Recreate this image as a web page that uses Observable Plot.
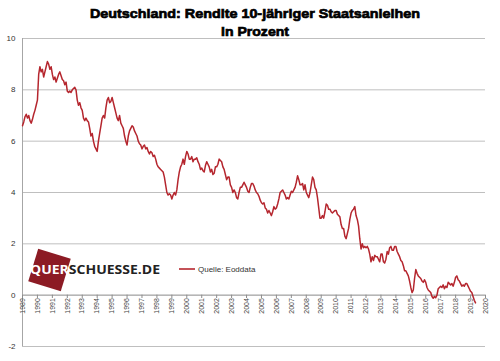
<!DOCTYPE html>
<html>
<head>
<meta charset="utf-8">
<script src="https://cdn.jsdelivr.net/npm/d3@7"></script>
<script src="https://cdn.jsdelivr.net/npm/@observablehq/plot@0.6"></script>
<style>
  html, body { margin: 0; padding: 0; background: #fff; }
  #chart { width: 500px; height: 361px; }
</style>
</head>
<body>
<div id="chart"></div>
<script>
// Chart texts
const titleLine1 = "Deutschland: Rendite 10-jähriger Staatsanleihen";
const titleLine2 = "in Prozent";
const legendLabel = "Quelle: Eoddata";
const logoText1 = "QUER";
const logoText2 = "SCHUESSE.DE";

// Axis ticks
const yTicks = [-2, 0, 2, 4, 6, 8, 10];
const yearTicks = [1989,1990,1991,1992,1993,1994,1995,1996,1997,1998,1999,2000,2001,2002,2003,2004,
  2005,2006,2007,2008,2009,2010,2011,2012,2013,2014,2015,2016,2017,2018,2019,2020];

// Monthly yield readings (%), starting January 1989
const startYear = 1989;
const yields = [
  // 1989
  6.6, 6.75, 6.95, 7.05, 6.9, 7.0, 6.8, 6.7, 6.85, 7.05, 7.2, 7.4,
  // 1990
  7.6, 8.6, 8.9, 8.7, 8.8, 8.5, 8.7, 8.9, 9.1, 9.0, 8.8, 8.9,
  // 1991
  8.6, 8.4, 8.5, 8.3, 8.45, 8.6, 8.7, 8.55, 8.4, 8.35, 8.2, 8.3,
  // 1992
  7.95, 7.9, 7.95, 7.9, 8.0, 8.05, 8.1, 8.0, 7.6, 7.4, 7.5, 7.3,
  // 1993
  7.2, 6.9, 6.8, 6.9, 6.8, 6.75, 6.5, 6.2, 6.3, 6.0, 5.8, 5.7,
  // 1994
  5.6, 6.0, 6.3, 6.6, 6.9, 7.0, 6.9, 7.3, 7.6, 7.7, 7.5, 7.55,
  // 1995
  7.7, 7.5, 7.3, 7.1, 6.9, 6.8, 7.0, 6.7, 6.6, 6.5, 6.2, 6.0,
  // 1996
  5.85, 6.2, 6.4, 6.5, 6.6, 6.55, 6.4, 6.3, 6.2, 6.0, 5.9, 5.85,
  // 1997
  5.7, 5.8, 5.85, 5.7, 5.75, 5.6, 5.5, 5.6, 5.55, 5.4, 5.45, 5.3,
  // 1998
  5.1, 5.0, 4.95, 4.9, 4.85, 4.8, 4.6, 4.3, 4.0, 3.9, 3.95, 3.9,
  // 1999
  3.75, 3.9, 4.0, 3.9, 4.1, 4.5, 4.8, 5.0, 5.1, 5.3, 5.1, 5.4,
  // 2000
  5.6, 5.5, 5.3, 5.3, 5.4, 5.2, 5.3, 5.3, 5.35, 5.2, 5.1, 4.9,
  // 2001
  4.95, 4.85, 4.8, 5.05, 5.2, 5.1, 5.0, 4.8, 4.9, 4.7, 4.75, 5.0,
  // 2002
  5.0, 5.1, 5.3, 5.25, 5.2, 5.0, 4.9, 4.7, 4.5, 4.6, 4.6, 4.3,
  // 2003
  4.2, 4.0, 4.1, 4.0, 3.8, 3.75, 4.0, 4.2, 4.2, 4.3, 4.4, 4.3,
  // 2004
  4.2, 4.05, 4.0, 4.2, 4.35, 4.35, 4.25, 4.1, 4.0, 3.95, 3.85, 3.7,
  // 2005
  3.6, 3.55, 3.6, 3.4, 3.35, 3.2, 3.3, 3.2, 3.1, 3.25, 3.45, 3.35,
  // 2006
  3.4, 3.55, 3.75, 4.0, 4.05, 4.1, 4.0, 3.9, 3.75, 3.8, 3.75, 3.9,
  // 2007
  4.05, 4.0, 4.1, 4.2, 4.4, 4.65, 4.5, 4.3, 4.3, 4.35, 4.1, 4.3,
  // 2008
  4.0, 3.9, 3.8, 4.0, 4.3, 4.6, 4.5, 4.2, 4.1, 3.8, 3.4, 3.0,
  // 2009
  3.0, 3.1, 3.0, 3.25, 3.55, 3.5, 3.35, 3.35, 3.25, 3.2, 3.25, 3.3,
  // 2010
  3.3, 3.15, 3.1, 3.05, 2.75, 2.6, 2.6, 2.3, 2.2, 2.4, 2.6, 2.95,
  // 2011
  3.2, 3.3, 3.35, 3.45, 3.1, 2.95, 2.7, 2.2, 1.8, 2.0, 1.85, 1.9,
  // 2012
  1.85, 1.9, 1.8, 1.6, 1.3, 1.5, 1.35, 1.55, 1.5, 1.5, 1.4, 1.3,
  // 2013
  1.6, 1.6, 1.3, 1.25, 1.4, 1.7, 1.6, 1.85, 1.9, 1.75, 1.75, 1.9,
  // 2014
  1.9, 1.7, 1.6, 1.5, 1.35, 1.3, 1.15, 0.95, 0.95, 0.85, 0.75, 0.55,
  // 2015
  0.3, 0.1, 0.2, 0.65, 1.0, 0.85, 0.75, 0.7, 0.65, 0.55, 0.5, 0.6,
  // 2016
  0.5, 0.3, 0.2, 0.15, 0.1, -0.05, -0.12, -0.05, -0.1, 0.0, 0.25, 0.3,
  // 2017
  0.35, 0.3, 0.4, 0.25, 0.35, 0.3, 0.5, 0.45, 0.4, 0.45, 0.35, 0.5,
  // 2018
  0.7, 0.75, 0.6, 0.55, 0.45, 0.35, 0.4, 0.35, 0.45, 0.45, 0.35, 0.25,
  // 2019
  0.15, 0.1, -0.05, -0.2, -0.3
];

const series = yields.map((v, i) => ({t: startYear + i / 12, v}));

const lineColor = "#b5262e";
const gridColor = "#bfbfbf";

const chart = Plot.plot({
  width: 500,
  height: 361,
  marginLeft: 22,
  marginRight: 15,
  marginTop: 38,
  marginBottom: 15,
  x: {domain: [1989, 2020], axis: null},
  y: {domain: [-2, 10], axis: null},
  style: {background: "#fff", fontFamily: "Liberation Sans, Arial, sans-serif"},
  marks: [
    Plot.ruleY(yTicks, {y: d => d, stroke: gridColor, strokeWidth: 1}),
    Plot.ruleX([1989], {stroke: "#a6a6a6", strokeWidth: 1}),
    Plot.ruleY([0], {stroke: "#a6a6a6", strokeWidth: 1}),
    Plot.ruleX(yearTicks, {x: d => d, y1: 0, y2: -0.13, stroke: "#8c8c8c", strokeWidth: 1}),
    Plot.text(yTicks, {x: 1989, y: d => d, text: d => String(d), textAnchor: "end", dx: -7, fontSize: 8, fill: "#333"}),
    Plot.text(yearTicks, {x: d => d, y: 0, text: d => String(d), rotate: -90, textAnchor: "end", dy: 3, fontSize: 7, fill: "#444"}),
    Plot.line(series, {x: "t", y: "v", stroke: lineColor, strokeWidth: 1.5, strokeLinejoin: "round"})
  ]
});

document.getElementById("chart").appendChild(chart);

const svg = d3.select(chart);

// Title
svg.append("text").attr("x", 255).attr("y", 18).attr("text-anchor", "middle")
  .attr("font-family", "Liberation Sans, Arial, sans-serif").attr("font-weight", "bold")
  .attr("font-size", 13.5).attr("fill", "#000").attr("stroke", "#000").attr("stroke-width", 0.7)
  .attr("textLength", 330).attr("lengthAdjust", "spacingAndGlyphs")
  .text(titleLine1);
svg.append("text").attr("x", 255).attr("y", 36).attr("text-anchor", "middle")
  .attr("font-family", "Liberation Sans, Arial, sans-serif").attr("font-weight", "bold")
  .attr("font-size", 13.5).attr("fill", "#000").attr("stroke", "#000").attr("stroke-width", 0.7)
  .attr("textLength", 68).attr("lengthAdjust", "spacingAndGlyphs")
  .text(titleLine2);

// Logo
const logo = svg.append("g");
logo.append("rect").attr("x", -17).attr("y", -17).attr("width", 34).attr("height", 34)
  .attr("fill", "#8c1b24").attr("transform", "translate(49.5,270) rotate(17)");
const lt = logo.append("text").attr("x", 30).attr("y", 274).attr("text-anchor", "start")
  .attr("font-family", "Open Sans, Liberation Sans, sans-serif").attr("font-weight", "bold")
  .attr("font-size", 12.5).attr("textLength", 130).attr("lengthAdjust", "spacingAndGlyphs");
lt.append("tspan").attr("fill", "#fff").text(logoText1);
lt.append("tspan").attr("fill", "#222").text(logoText2);

// Legend
svg.append("line").attr("x1", 179).attr("x2", 195).attr("y1", 269).attr("y2", 269)
  .attr("stroke", lineColor).attr("stroke-width", 1.6);
svg.append("text").attr("x", 198).attr("y", 272).attr("text-anchor", "start")
  .attr("font-family", "Liberation Sans, Arial, sans-serif").attr("font-size", 8).attr("fill", "#333")
  .text(legendLabel);
</script>
</body>
</html>
